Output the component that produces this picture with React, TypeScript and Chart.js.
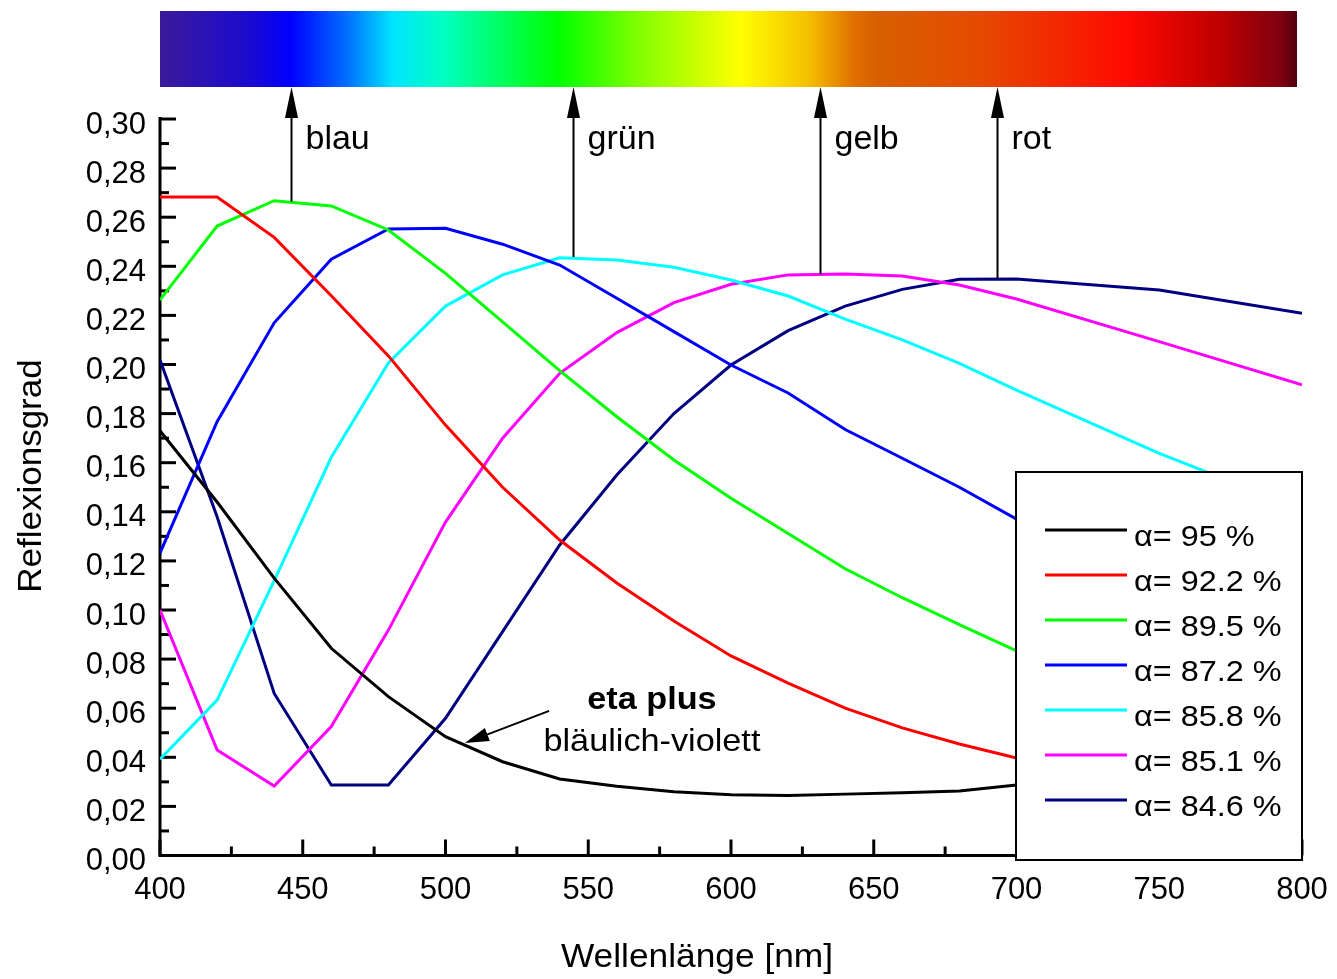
import React, { useEffect, useRef } from "react";
import { Chart, registerables } from "chart.js";

Chart.register(...registerables);

// ---------- data ----------
const wavelengths = [400, 420, 440, 460, 480, 500, 520, 540, 560, 580, 600, 620, 640, 660, 680, 700, 750, 800];

const alpha95 = [0.173, 0.144, 0.113, 0.0844, 0.0647, 0.0484, 0.0382, 0.0312, 0.0282, 0.026, 0.0247, 0.0244, 0.025, 0.0256, 0.0263, 0.0287, 0.032, 0.036];
const alpha922 = [0.2682, 0.2682, 0.2518, 0.228, 0.2035, 0.1753, 0.15, 0.1285, 0.111, 0.0955, 0.0813, 0.0702, 0.06, 0.052, 0.0454, 0.0397, 0.031, 0.0234];
const alpha895 = [0.2263, 0.2564, 0.2667, 0.2646, 0.2548, 0.2371, 0.2174, 0.1975, 0.1787, 0.1611, 0.1455, 0.1312, 0.1168, 0.105, 0.094, 0.0834, 0.065, 0.048];
const alpha872 = [0.1232, 0.1767, 0.217, 0.2429, 0.2552, 0.2555, 0.249, 0.2405, 0.227, 0.2134, 0.1998, 0.1884, 0.1735, 0.1618, 0.15, 0.137, 0.113, 0.09];
const alpha858 = [0.0392, 0.0633, 0.112, 0.1622, 0.2006, 0.2238, 0.2365, 0.2435, 0.2426, 0.2396, 0.2344, 0.2279, 0.2185, 0.21, 0.2005, 0.1896, 0.1638, 0.141];
const alpha851 = [0.1, 0.043, 0.0283, 0.0525, 0.0918, 0.1358, 0.17, 0.1964, 0.213, 0.2252, 0.2327, 0.2365, 0.2369, 0.236, 0.2324, 0.2267, 0.2093, 0.1917];
const alpha846 = [0.2018, 0.138, 0.066, 0.0287, 0.0287, 0.0559, 0.0912, 0.1265, 0.155, 0.18, 0.1998, 0.2138, 0.2238, 0.2306, 0.2347, 0.2348, 0.2303, 0.2209];

const seriesValues = [alpha95, alpha922, alpha895, alpha872, alpha858, alpha851, alpha846];
const seriesLabels = ["α= 95 %", "α= 92.2 %", "α= 89.5 %", "α= 87.2 %", "α= 85.8 %", "α= 85.1 %", "α= 84.6 %"];
const seriesColors = ["#000000", "#ff0000", "#00ff00", "#0000ff", "#00ffff", "#ff00ff", "#000080"];

const xTitle = "Wellenlänge [nm]";
const yTitle = "Reflexionsgrad";

const arrowNames = ["blau", "grün", "gelb", "rot"];
const arrowWavelengths = [445.9, 544.7, 631.2, 693.2];
const arrowBaseValues = [0.2664, 0.2438, 0.2368, 0.2348];
const arrowLabelValue = 0.2878;

const annotationTitle = "eta plus";
const annotationSubtitle = "bläulich-violett";
const annotationTextAt = [572.3, 0.0597, 0.0426]; // nm, title baseline, subtitle baseline
const annotationArrowFrom = [536.3, 0.0589];
const annotationArrowTo = [506.8, 0.0458];

const spectrumStops: [number, string][] = [
  [0, "#3b1b99"],
  [0.08, "#1a0ad0"],
  [0.115, "#0000ff"],
  [0.165, "#0070ff"],
  [0.205, "#00e5ff"],
  [0.25, "#00ffc0"],
  [0.35, "#00ff00"],
  [0.42, "#80ff00"],
  [0.51, "#ffff00"],
  [0.57, "#f5c000"],
  [0.61, "#e07000"],
  [0.63, "#d86000"],
  [0.72, "#e44a00"],
  [0.85, "#ff0a00"],
  [0.93, "#c00000"],
  [0.985, "#800010"],
  [1, "#500010"],
];

const FONT = '"Liberation Sans", Arial, Helvetica, sans-serif';

function stretchedText(ctx: CanvasRenderingContext2D, text: string, x: number, y: number, font: string, align: CanvasTextAlign, baseline: CanvasTextBaseline, sx = 1.07, rot = 0) {
  ctx.save();
  ctx.font = font;
  ctx.fillStyle = "#000";
  ctx.textAlign = align;
  ctx.textBaseline = baseline;
  ctx.translate(x, y);
  if (rot) ctx.rotate(rot);
  ctx.scale(sx, 1);
  ctx.fillText(text, 0, 0);
  ctx.restore();
}

function arrowHead(ctx: CanvasRenderingContext2D, tipX: number, tipY: number, fromX: number, fromY: number, len: number, half: number) {
  const ang = Math.atan2(tipY - fromY, tipX - fromX);
  const bx = tipX - Math.cos(ang) * len;
  const by = tipY - Math.sin(ang) * len;
  const px = -Math.sin(ang) * half;
  const py = Math.cos(ang) * half;
  ctx.beginPath();
  ctx.moveTo(tipX, tipY);
  ctx.lineTo(bx + px, by + py);
  ctx.lineTo(bx - px, by - py);
  ctx.closePath();
  ctx.fill();
}

const decorPlugin = {
  id: "decor",
  beforeDatasetsDraw(chart: any) {
    const { ctx, chartArea: ca, scales } = chart;
    const xs = scales.x;
    const ys = scales.y;
    ctx.save();
    ctx.strokeStyle = "#000";
    ctx.lineWidth = 3;
    ctx.lineCap = "butt";
    // axis lines
    ctx.beginPath();
    ctx.moveTo(ca.left, ca.top - 2);
    ctx.lineTo(ca.left, ca.bottom + 1.5);
    ctx.moveTo(ca.left - 1.5, ca.bottom);
    ctx.lineTo(ca.right, ca.bottom);
    ctx.stroke();
    // y ticks (inward)
    for (let i = 0; i <= 30; i++) {
      const v = i / 100;
      const y = ys.getPixelForValue(v);
      const len = i % 2 === 0 ? 16 : 9;
      ctx.beginPath();
      ctx.moveTo(ca.left, y);
      ctx.lineTo(ca.left + len, y);
      ctx.stroke();
    }
    // x ticks (inward)
    for (let nm = 400; nm <= 800; nm += 25) {
      const x = xs.getPixelForValue(nm);
      const len = nm % 50 === 0 ? 16 : 9;
      ctx.beginPath();
      ctx.moveTo(x, ca.bottom);
      ctx.lineTo(x, ca.bottom - len);
      ctx.stroke();
    }
    // axis titles
    stretchedText(ctx, xTitle, 697, 958, `33px ${FONT}`, "center", "middle", 1.07);
    stretchedText(ctx, yTitle, 32, 476, `33px ${FONT}`, "center", "middle", 1.06, -Math.PI / 2);
    ctx.restore();
  },
  afterDraw(chart: any) {
    const { ctx, chartArea: ca, scales } = chart;
    const xs = scales.x;
    const ys = scales.y;
    ctx.save();
    // spectrum bar
    const barTop = 11;
    const barBottom = 87;
    const barLeft = ca.left;
    const barRight = ca.right - 5;
    const g = ctx.createLinearGradient(barLeft, 0, barRight, 0);
    spectrumStops.forEach(([o, c]) => g.addColorStop(o, c));
    ctx.fillStyle = g;
    ctx.fillRect(barLeft, barTop, barRight - barLeft, barBottom - barTop);

    // arrows to spectrum
    ctx.strokeStyle = "#000";
    ctx.fillStyle = "#000";
    arrowNames.forEach((name, i) => {
      const x = Math.round(xs.getPixelForValue(arrowWavelengths[i])) + 0.5;
      const y0 = ys.getPixelForValue(arrowBaseValues[i]);
      ctx.lineWidth = 2;
      ctx.beginPath();
      ctx.moveTo(x, y0);
      ctx.lineTo(x, barBottom + 20);
      ctx.stroke();
      arrowHead(ctx, x, barBottom, x, y0, 31, 6.5);
      stretchedText(ctx, name, x + 14, ys.getPixelForValue(arrowLabelValue), `34px ${FONT}`, "left", "alphabetic", 1.0);
    });

    // annotation
    const tx = xs.getPixelForValue(annotationTextAt[0]);
    stretchedText(ctx, annotationTitle, tx, ys.getPixelForValue(annotationTextAt[1]), `bold 32px ${FONT}`, "center", "alphabetic", 1.07);
    stretchedText(ctx, annotationSubtitle, tx, ys.getPixelForValue(annotationTextAt[2]), `32px ${FONT}`, "center", "alphabetic", 1.07);
    const ax0 = xs.getPixelForValue(annotationArrowFrom[0]);
    const ay0 = ys.getPixelForValue(annotationArrowFrom[1]);
    const ax1 = xs.getPixelForValue(annotationArrowTo[0]);
    const ay1 = ys.getPixelForValue(annotationArrowTo[1]);
    ctx.lineWidth = 2;
    ctx.beginPath();
    ctx.moveTo(ax0, ay0);
    ctx.lineTo(ax1 + (ax0 - ax1) * 0.2, ay1 + (ay0 - ay1) * 0.2);
    ctx.stroke();
    arrowHead(ctx, ax1, ay1, ax0, ay0, 24, 7);

    // legend box
    const bw = 286;
    const bx = ca.right - bw;
    const by = 472;
    const bh = 388;
    ctx.fillStyle = "#fff";
    ctx.fillRect(bx, by, bw, bh);
    ctx.strokeStyle = "#000";
    ctx.lineWidth = 2;
    ctx.strokeRect(bx, by, bw, bh);
    chart.data.datasets.forEach((ds: any, i: number) => {
      const ly = by + 58 + i * 45;
      ctx.strokeStyle = ds.borderColor;
      ctx.lineWidth = 3;
      ctx.beginPath();
      ctx.moveTo(bx + 29, ly);
      ctx.lineTo(bx + 111, ly);
      ctx.stroke();
      stretchedText(ctx, ds.label, bx + 118, ly + 8, `30px ${FONT}`, "left", "middle", 1.08);
    });
    ctx.restore();
  },
};

export default function App() {
  const canvasRef = useRef<HTMLCanvasElement | null>(null);

  useEffect(() => {
    const canvas = canvasRef.current;
    if (!canvas) return;
    const chart = new Chart(canvas, {
      type: "line",
      data: {
        datasets: seriesValues.map((vals, i) => ({
          label: seriesLabels[i],
          data: wavelengths.map((w, j) => ({ x: w, y: vals[j] })),
          borderColor: seriesColors[i],
          backgroundColor: seriesColors[i],
          borderWidth: 3,
          pointRadius: 0,
          tension: 0,
          fill: false,
        })),
      },
      options: {
        animation: false,
        responsive: false,
        devicePixelRatio: 1,
        layout: { padding: { left: 0, top: 119, right: 35, bottom: 0 } },
        plugins: {
          legend: { display: false },
          tooltip: { enabled: false },
        },
        scales: {
          x: {
            type: "linear",
            min: 400,
            max: 800,
            afterFit: (s: any) => {
              s.height = 123.5;
              s.paddingLeft = 0;
              s.paddingRight = 0;
            },
            grid: { display: false, drawTicks: false },
            border: { display: false },
            ticks: {
              stepSize: 50,
              color: "#000",
              padding: 16,
              maxRotation: 0,
              autoSkip: false,
              font: { family: FONT, size: 31 },
            },
          },
          y: {
            type: "linear",
            min: 0,
            max: 0.3,
            afterFit: (s: any) => {
              s.width = 160;
              s.paddingTop = 0;
              s.paddingBottom = 0;
            },
            grid: { display: false, drawTicks: false },
            border: { display: false },
            ticks: {
              stepSize: 0.02,
              color: "#000",
              padding: 14,
              labelOffset: 6,
              font: { family: FONT, size: 31 },
              callback: (v: any) => Number(v).toFixed(2).replace(".", ","),
            },
          },
        },
      },
      plugins: [decorPlugin],
    } as any);
    return () => chart.destroy();
  }, []);

  return (
    <div style={{ position: "absolute", left: 0, top: 0, width: 1337, height: 979, background: "#fff" }}>
      <canvas ref={canvasRef} width={1337} height={979} style={{ display: "block", width: 1337, height: 979 }} />
    </div>
  );
}
